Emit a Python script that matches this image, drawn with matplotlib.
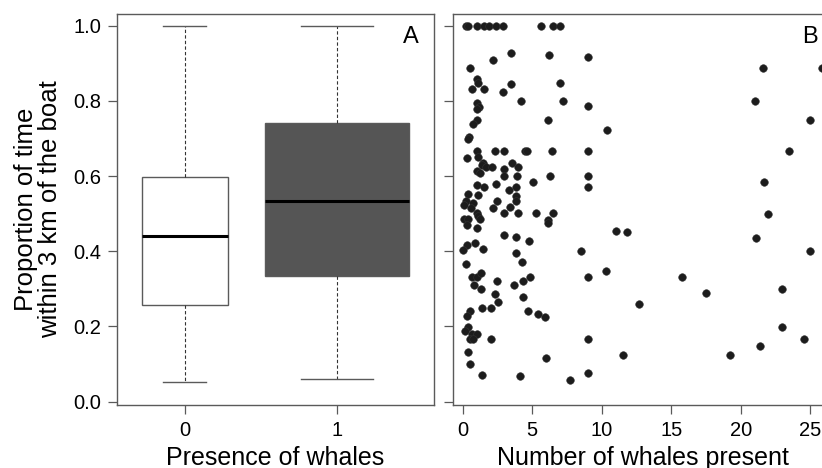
import matplotlib
matplotlib.use("Agg")
import matplotlib.pyplot as plt

plt.rcParams['font.family'] = ['Liberation Sans', 'DejaVu Sans']

# Panel A: box summaries
groups = [0, 1]
box_widths = [0.566, 0.948]
whisker_lo = [0.052, 0.0595]
q1 = [0.258, 0.3335]
medians = [0.441, 0.533]
q3 = [0.598, 0.742]
whisker_hi = [1.0, 1.0]
box_fill = ['white', '#555555']

# Panel B: number of whales vs proportion of time
whales = [0.2, 0.4, 1.0, 1.5, 1.9, 2.4, 2.9, 5.6, 6.5, 7.0,
          3.5, 6.2, 9.0, 2.2, 0.55, 1.0, 1.1, 3.5, 7.0, 0.67,
          1.5, 2.9, 4.2, 7.25, 1.0, 1.15, 1.0, 9.0, 6.1, 1.0,
          0.75, 10.4, 0.45, 0.35,
          1.0, 2.35, 3.0, 4.5, 4.65, 6.4, 9.0,
          0.3, 1.1, 1.45, 1.4, 1.65, 2.1, 3.55, 4.0, 3.0, 1.0, 1.25,
          3.0, 3.9, 6.3, 9.0,
          5.05, 1.05, 1.5, 2.4, 3.85, 9.0, 3.35, 0.4, 1.1, 3.85, 3.85,
          0.2, 0.75, 0.1, 2.5, 0.6, 2.2, 3.4,
          1.0, 1.1, 3.0, 3.95, 5.25, 6.5,
          0.1, 0.4, 0.3, 1.25, 1.0, 6.1, 6.1,
          11.0, 11.8, 2.95, 3.85, 4.75,
          0.3, 0.05, 0.9, 1.45, 8.5, 3.85, 4.3, 0.25, 10.3,
          0.65, 1.0, 1.3, 9.0,
          0.8, 1.35, 2.5, 3.7, 4.35, 4.85,
          2.3, 2.55, 4.35, 12.7,
          0.55, 0.3, 1.4, 2.0, 4.7, 5.45, 5.9,
          0.4, 0.15, 0.65, 1.0, 0.5, 0.75, 2.0, 9.0,
          0.35, 0.5, 11.5, 6.0, 1.4, 4.15, 7.75, 9.0,
          21.6, 25.85, 21.0, 24.95, 23.45, 21.7, 21.95, 21.1, 24.95,
          15.8, 17.5, 22.95, 22.95, 21.4, 24.55, 19.2]
proportion = [1.0, 1.0, 1.0, 1.0, 1.0, 1.0, 1.0, 1.0, 1.0, 1.0,
              0.928, 0.923, 0.917, 0.909, 0.888, 0.857, 0.847, 0.846, 0.847, 0.832,
              0.832, 0.824, 0.800, 0.800, 0.794, 0.784, 0.778, 0.786, 0.750, 0.750,
              0.738, 0.722, 0.705, 0.699,
              0.667, 0.667, 0.667, 0.667, 0.667, 0.667, 0.667,
              0.649, 0.651, 0.636, 0.629, 0.625, 0.625, 0.636, 0.625, 0.618, 0.614, 0.609,
              0.600, 0.600, 0.600, 0.600,
              0.583, 0.576, 0.572, 0.579, 0.572, 0.572, 0.564, 0.552, 0.550, 0.547, 0.534,
              0.534, 0.529, 0.523, 0.534, 0.514, 0.515, 0.517,
              0.501, 0.495, 0.501, 0.501, 0.501, 0.501,
              0.486, 0.486, 0.471, 0.486, 0.461, 0.483, 0.476,
              0.454, 0.451, 0.444, 0.437, 0.428,
              0.417, 0.403, 0.421, 0.407, 0.400, 0.394, 0.372, 0.365, 0.348,
              0.332, 0.332, 0.341, 0.332,
              0.310, 0.300, 0.321, 0.310, 0.322, 0.332,
              0.286, 0.266, 0.279, 0.260,
              0.241, 0.227, 0.249, 0.249, 0.240, 0.233, 0.224,
              0.199, 0.187, 0.180, 0.181, 0.167, 0.167, 0.166, 0.167,
              0.133, 0.099, 0.125, 0.117, 0.071, 0.068, 0.058, 0.076,
              0.888, 0.888, 0.800, 0.750, 0.666, 0.584, 0.500, 0.434, 0.400,
              0.332, 0.289, 0.300, 0.199, 0.147, 0.166, 0.124]

spine_col = '#5a5a5a'
yticks = [0.0, 0.2, 0.4, 0.6, 0.8, 1.0]

fig = plt.figure(figsize=(8.22, 4.68), dpi=100)
axA = fig.add_axes([117 / 822, 63 / 468, 317 / 822, 391 / 468])
axB = fig.add_axes([453 / 822, 63 / 468, 380 / 822, 391 / 468])

# Panel A
stats = []
for i in range(len(groups)):
    stats.append(dict(whislo=whisker_lo[i], q1=q1[i], med=medians[i],
                      q3=q3[i], whishi=whisker_hi[i], fliers=[]))
bp = axA.bxp(stats, positions=groups, widths=box_widths,
             capwidths=[w / 2 for w in box_widths], patch_artist=True,
             showfliers=False,
             boxprops=dict(edgecolor=spine_col, linewidth=1.0),
             whiskerprops=dict(color='#333333', linestyle=(0, (3, 2)), linewidth=0.8),
             capprops=dict(color=spine_col, linewidth=1.0),
             medianprops=dict(color='black', linewidth=2.2))
for patch, c in zip(bp['boxes'], box_fill):
    patch.set_facecolor(c)

axA.set_xlim(-0.445, 1.637)
axA.set_xticks(groups)
axA.set_xticklabels(['0', '1'])
axA.set_xlabel('Presence of whales', fontsize=18, labelpad=4)
axA.set_ylabel('Proportion of time\nwithin 3 km of the boat', fontsize=18.5,
               labelpad=8, linespacing=1.0)
axA.text(1 - 15 / 317, 1 - 12 / 391, 'A', transform=axA.transAxes,
         ha='right', va='top', fontsize=17)

# Panel B
axB.scatter(whales, proportion, s=30, color='#1c1c1c', edgecolors='#333333',
            linewidths=0.4, zorder=3)
axB.set_xlim(-0.70, 26.64)
axB.set_xticks([0, 5, 10, 15, 20, 25])
axB.set_xlabel('Number of whales present', fontsize=18, labelpad=4)
axB.set_yticklabels([])
axB.text(1 - 15 / 380, 1 - 12 / 391, 'B', transform=axB.transAxes,
         ha='right', va='top', fontsize=17)

for ax in (axA, axB):
    ax.set_ylim(-0.009, 1.031)
    ax.set_yticks(yticks)
    for sp in ax.spines.values():
        sp.set_color(spine_col)
        sp.set_linewidth(1.0)
    ax.tick_params(direction='out', length=6.5, width=0.9, color=spine_col,
                   labelsize=14.5, pad=5)
axA.set_yticklabels([f'{v:.1f}' for v in yticks])

fig.savefig('out.png', dpi=100)
